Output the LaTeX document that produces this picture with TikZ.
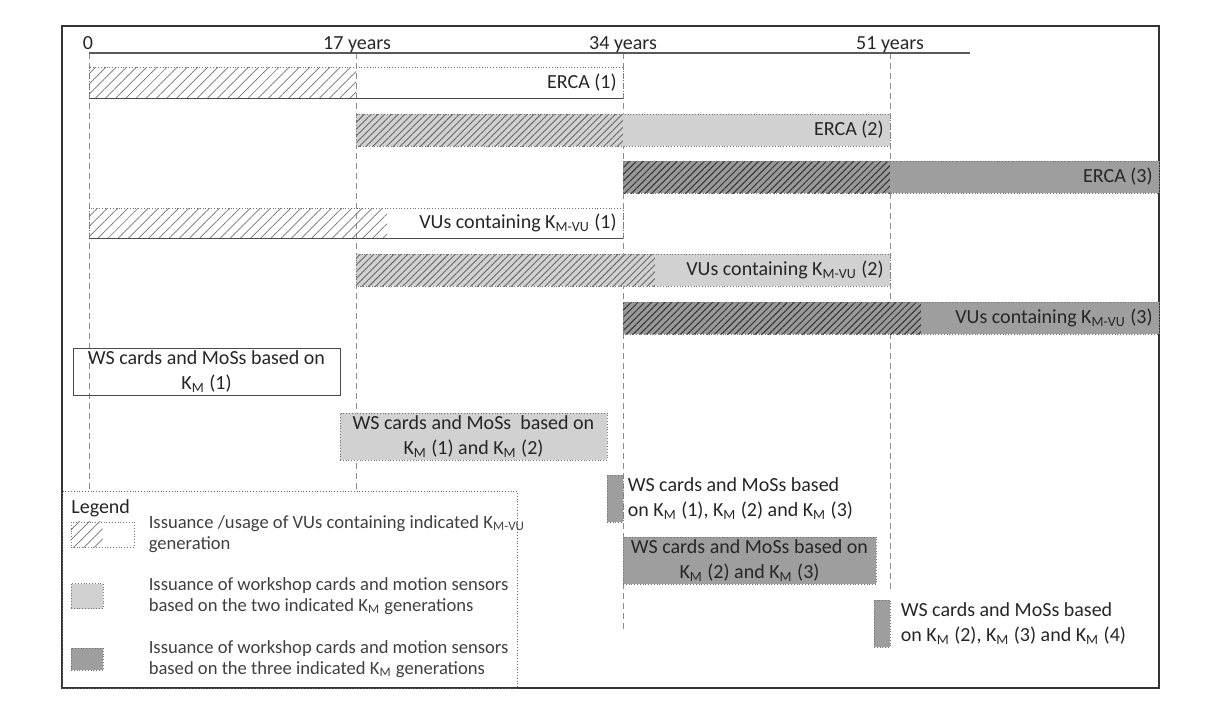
\documentclass[tikz,border=0pt]{standalone}
\usepackage{fontspec}
\setmainfont{Carlito}
\usetikzlibrary{patterns.meta,positioning}
\newcommand{\KM}{K\textsubscript{M}}
\newcommand{\KMVU}{K\textsubscript{M-VU}}

\tikzset{
  hatchlight/.style={pattern={Lines[angle=45,distance=3.6pt,line width=0.35pt]},pattern color=black!55},
  hatchmid/.style={fill=black!18,postaction={pattern={Lines[angle=45,distance=2.4pt,line width=0.45pt]},pattern color=black!60}},
  hatchdark/.style={fill=black!40,postaction={pattern={Lines[angle=45,distance=2.4pt,line width=0.5pt]},pattern color=black!80}},
  dotslight/.style={fill=black!18},
  dotsdark/.style={fill=black!38},
  barline/.style={draw=black!55,densely dotted,line width=0.4pt},
  yearline/.style={draw=black!45,densely dashed,line width=0.4pt},
  wsbox/.style={minimum width=133.5pt,minimum height=23.5pt,inner sep=0.5pt,align=center},
  wsbar/.style={draw=black!55,densely dotted,minimum width=8pt,minimum height=23.5pt,inner sep=0pt},
  lgdicon/.style={draw=black!55,densely dotted,minimum width=16pt,minimum height=12.5pt,inner sep=0pt},
  lgdtext/.style={align=left,text=black!75,font=\fontsize{9.3}{10.6}\selectfont},
}

\begin{document}
\begin{tikzpicture}[x=0.5pt,y=-0.5pt,
    every node/.style={font=\fontsize{10}{12.5}\selectfont,inner sep=1pt,text=black!85}]
\useasboundingbox (0,0) rectangle (1217,723);
\draw[black!80,line width=0.7pt] (62,26) rectangle (1159,688);

% legend box first, the year lines stop on it
\node[draw=black!60,densely dotted,minimum width=227.5pt,minimum height=98.5pt,anchor=north west,inner sep=0pt] (lgd) at (62,491) {};

% time axis
\coordinate (y0) at (89,53);
\coordinate (y17) at (356,53);
\coordinate (y34) at (623,53);
\coordinate (y51) at (890,53);
\coordinate (axisend) at (970,53);
\coordinate (end34) at (623,632);
\coordinate (end51) at (890,590);
\draw[yearline] (y0) -- (y0 |- lgd.north);
\draw[yearline] (y17) -- (y17 |- lgd.north);
\draw[yearline] (y34) -- (end34);
\draw[yearline] (y51) -- (end51);
\draw[black!65,line width=0.7pt] (y0) -- (axisend);
\node[anchor=base] (t0) at (88,49) {0};
\node[anchor=base] (t17) at (357,49) {17 years};
\node[anchor=base] (t34) at (623,49) {34 years};
\node[anchor=base] (t51) at (890,49) {51 years};

% ERCA rows
\path[hatchlight] (89,67) rectangle (356,98);
\draw[barline] (89,67) rectangle (623,98);
\draw[black!70,line width=0.4pt] (89,98) -- (623,98);
\node[anchor=east] (erca1) at (619,82.5) {ERCA (1)};

\path[hatchmid] (356,114) rectangle (623,146);
\path[dotslight] (623,114) rectangle (890,146);
\draw[barline] (356,114) rectangle (890,146);
\node[anchor=east] (erca2) at (886,130) {ERCA (2)};

\path[hatchdark] (623,161) rectangle (890,193);
\path[dotsdark] (890,161) rectangle (1159,193);
\draw[barline] (623,161) rectangle (1159,193);
\node[anchor=east] (erca3) at (1155,177) {ERCA (3)};

% VU rows
\path[hatchlight] (89,208) rectangle (387,238);
\draw[barline] (89,208) rectangle (623,238);
\draw[black!70,line width=0.4pt] (89,238) -- (623,238);
\node[anchor=east] (vu1) at (619,223) {VUs containing \KMVU{} (1)};

\path[hatchmid] (356,254) rectangle (655,286);
\path[dotslight] (655,254) rectangle (890,286);
\draw[barline] (356,254) rectangle (890,286);
\node[anchor=east] (vu2) at (886,270) {VUs containing \KMVU{} (2)};

\path[hatchdark] (623,302) rectangle (921,334);
\path[dotsdark] (921,302) rectangle (1159,334);
\draw[barline] (623,302) rectangle (1159,334);
\node[anchor=east] (vu3) at (1155,318) {VUs containing \KMVU{} (3)};

% workshop cards and motion sensors
\node[wsbox,draw=black!70] (ws1) at (206.5,371.5) {WS cards and MoSs based on\\\KM{} (1)};
\node[wsbox,dotslight,draw=black!55,densely dotted] (ws2) at (473.5,436.5) {WS cards and MoSs\ \ based on\\\KM{} (1) and \KM{} (2)};
\node[wsbar,dotsdark] (ws3bar) at (615,498.5) {};
\node[right=1pt of ws3bar,align=left] (ws3) {WS cards and MoSs based\\on \KM{} (1), \KM{} (2) and \KM{} (3)};
\node[wsbox,dotsdark,draw=black!55,densely dotted,minimum width=126.5pt] (ws4) at (749.5,560.5) {WS cards and MoSs based on\\\KM{} (2) and \KM{} (3)};
\node[wsbar,dotsdark] (ws5bar) at (882,623.5) {};
\node[right=4pt of ws5bar,align=left] (ws5) {WS cards and MoSs based\\on \KM{} (2), \KM{} (3) and \KM{} (4)};

% legend
\node[anchor=west] (lgdtitle) at (69,508) {Legend};
\node[lgdicon,minimum width=31.5pt] (key1) at (102.5,534.5) {};
\path[hatchlight] (key1.north west) rectangle ([xshift=16pt]key1.south west);
\node[right=6pt of key1,lgdtext] (key1txt) {Issuance /usage of VUs containing indicated \KMVU\\generation};
\node[lgdicon,dotslight] (key2) at (87,596) {};
\node[right=21.5pt of key2,lgdtext] (key2txt) {Issuance of workshop cards and motion sensors\\based on the two indicated \KM{} generations};
\node[lgdicon,dotsdark,minimum height=11pt] (key3) at (87,659) {};
\node[right=21.5pt of key3,lgdtext] (key3txt) {Issuance of workshop cards and motion sensors\\based on the three indicated \KM{} generations};

\end{tikzpicture}
\end{document}
